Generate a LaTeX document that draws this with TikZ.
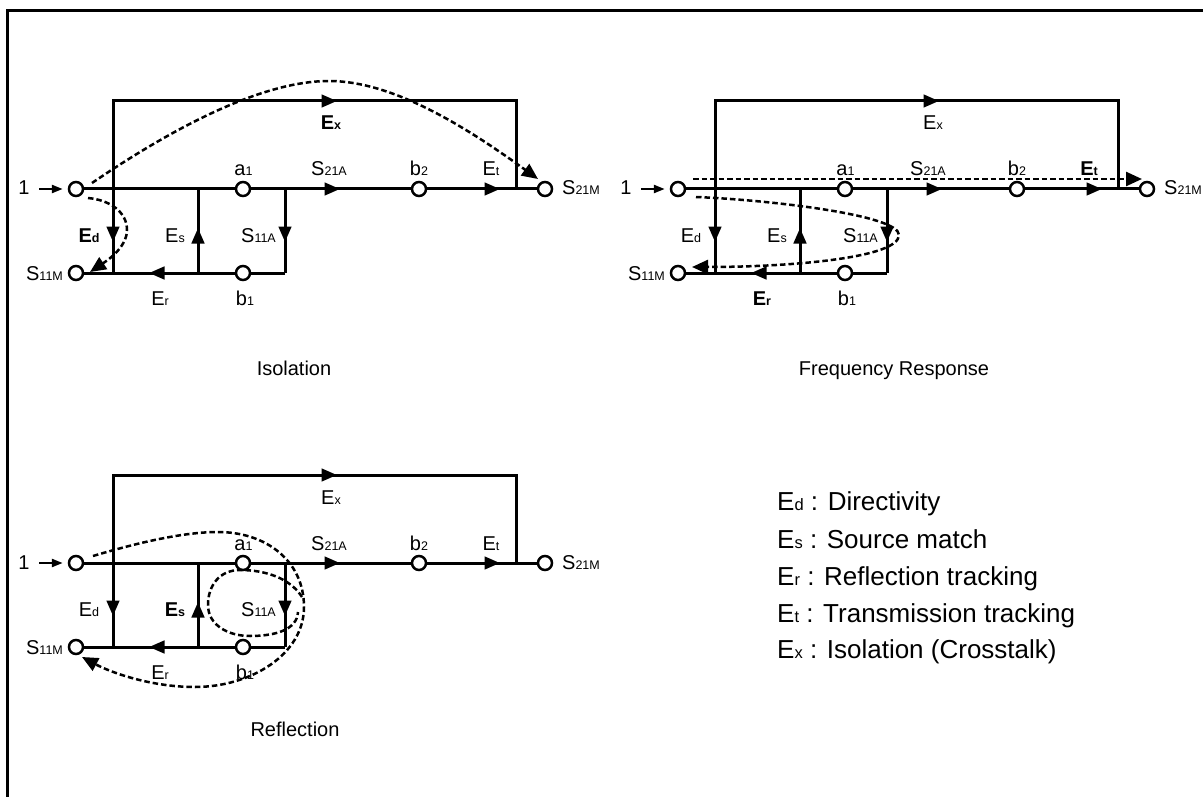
\documentclass[tikz,border=0pt]{standalone}
\usepackage{fontspec}
\setmainfont{Liberation Sans}
\usetikzlibrary{arrows.meta}
\newcommand{\sub}[1]{{\fontsize{12.5}{12.5}\selectfont #1}}
\newcommand{\lsub}[1]{{\fontsize{16.5}{16.5}\selectfont #1}}
% #1 name prefix, #2 dx, #3 dy, #4 b2 x, #5 Et label x, #6 S21A label x
\newcommand{\flowgraph}[6]{%
\begin{scope}[shift={(#2,#3)}]
  \coordinate (#1tl) at (113,101);
  \coordinate (#1tr) at (516,101);
  \coordinate (#1jr) at (516,189);
  \coordinate (#1jl) at (113,189);
  \coordinate (#1bl) at (113,273);
  \coordinate (#1js) at (198,189);
  \coordinate (#1bs) at (198,273);
  \coordinate (#1ja) at (285,189);
  \coordinate (#1ba) at (285,273);
  \coordinate (#1tipx) at (337,101);
  \coordinate (#1tipm) at (340,189);
  \coordinate (#1tipt) at (500,189);
  \coordinate (#1tipd) at (113,242);
  \coordinate (#1tips) at (198,228);
  \coordinate (#1tipa) at (285,242);
  \coordinate (#1tipr) at (149,273);
  \coordinate (#1arrs) at (39,189);
  \draw[wire] (#1jl) -- (#1tl) -- (#1tr) -- (#1jr);
  \draw[wire] (#1jl) -- (#1bl);
  \draw[wire] (#1bs) -- (#1js);
  \draw[wire] (#1ja) -- (#1ba);
  \node[port] (#1in) at (76,189) {};
  \node[port] (#1a) at (243,189) {};
  \node[port] (#1b2) at (#4,189) {};
  \node[port] (#1out) at (545,189) {};
  \node[port] (#1refl) at (76,273) {};
  \node[port] (#1b1) at (243,273) {};
  \draw[wire] (#1in) -- (#1a);
  \draw[wire] (#1a) -- (#1b2);
  \draw[wire] (#1b2) -- (#1out);
  \draw[wire] (#1ba) -- (#1b1);
  \draw[wire] (#1b1) -- (#1refl);
  \draw[tipped] (#1tl) -- (#1tipx);
  \draw[tipped] (#1a) -- (#1tipm);
  \draw[tipped] (#1b2) -- (#1tipt);
  \draw[tipped] (#1jl) -- (#1tipd);
  \draw[tipped] (#1bs) -- (#1tips);
  \draw[tipped] (#1ja) -- (#1tipa);
  \draw[tipped] (#1b1) -- (#1tipr);
  \draw[feed] (#1arrs) -- (#1in);
  \node[lbl] (#1lone) at (24,195) {1};
  \node[lbl,anchor=base west] (#1lout) at (562,195) {S\sub{21M}};
  \node[lbl] (#1lrefl) at (44.5,280) {S\sub{11M}};
  \node[lbl] (#1la) at (243.5,176) {a\sub{1}};
  \node[lbl] (#1lb) at (245,305) {b\sub{1}};
  \node[lbl] (#1lb2) at (#4,176) {b\sub{2}};
  \node[lbl] (#1lsa) at (#6,176) {S\sub{21A}};
  \node[lbl] (#1lsb) at (258.5,242) {S\sub{11A}};
  \node[lbl] (#1lt) at (#5,176) {{\fEt E\sub{t}}};
  \node[lbl] (#1lx) at (331,130) {{\fEx E\sub{x}}};
  \node[lbl] (#1ld) at (89,242) {{\fEd E\sub{d}}};
  \node[lbl] (#1ls) at (175,242) {{\fEs E\sub{s}}};
  \node[lbl] (#1lr) at (160,305) {{\fEr E\sub{r}}};
\end{scope}}
\begin{document}
\begin{tikzpicture}[x=1pt,y=-1pt,
  wire/.style={line width=3pt,line cap=butt,line join=miter},
  tipped/.style={line width=3pt,-{Triangle[length=15.5pt,width=12.5pt]}},
  feed/.style={line width=2.4pt,-{Triangle[length=11pt,width=8pt]},shorten >=5pt},
  port/.style={circle,draw,line width=2.5pt,fill=white,minimum size=14pt,inner sep=0pt},
  lbl/.style={inner sep=0pt,anchor=base,font=\fontsize{20}{20}\selectfont},
  captext/.style={inner sep=0pt,anchor=base,font=\fontsize{20}{20}\selectfont},
  legend/.style={inner sep=0pt,anchor=base west,font=\fontsize{26}{26}\selectfont},
  sig/.style={line width=2.5pt,dash pattern=on 5.5pt off 3pt},
  sigtip/.style={sig,-{Triangle[length=16pt,width=14pt]}}]
\useasboundingbox (0,0) rectangle (1203,797);
\fill[white] (0,0) rectangle (1203,797);
\draw[line width=3pt] (7,797) -- (7,11) -- (1203,11);
\def\fEd{\bfseries}\def\fEs{}\def\fEr{}\def\fEt{}\def\fEx{\bfseries}
\flowgraph{i}{0}{0}{419}{491}{329}
\def\fEd{}\def\fEs{}\def\fEr{\bfseries}\def\fEt{\bfseries}\def\fEx{}
\flowgraph{f}{602}{0}{415}{487}{326}
\def\fEd{}\def\fEs{\bfseries}\def\fEr{}\def\fEt{}\def\fEx{}
\flowgraph{r}{0}{374}{419}{491}{329}
% signal paths
\coordinate (s1a) at (92,183); \coordinate (s1b) at (538,179);
\draw[sigtip] (s1a) .. controls (170,130) and (260,81) .. (329,81) .. controls (395,81) and (470,130) .. (s1b);
\coordinate (s2a) at (88,198); \coordinate (s2b) at (90,272);
\draw[sigtip] (s2a) .. controls (110,200) and (127,212) .. (127,230) .. controls (127,248) and (105,262) .. (s2b);
\coordinate (s3a) at (693,179); \coordinate (s3b) at (1142,179);
\draw[sigtip] (s3a) -- (s3b);
\coordinate (s4a) at (696,197); \coordinate (s4b) at (692,267);
\draw[sigtip] (s4a) .. controls (770,200) and (899,215) .. (899,235) .. controls (899,258) and (790,267) .. (s4b);
\coordinate (s5a) at (93,556); \coordinate (s5b) at (82,657);
\draw[sigtip] (s5a) .. controls (130,545) and (180,532) .. (218,532) .. controls (265,532) and (304,560) .. (304,607) .. controls (304,655) and (250,687) .. (195,687) .. controls (150,687) and (110,672) .. (s5b);
\coordinate (s6a) at (302,597); \coordinate (s6b) at (298,612);
\draw[sig] (s6a) .. controls (290,578) and (265,570) .. (240,570) .. controls (220,570) and (208,585) .. (208,605) .. controls (208,625) and (228,636) .. (250,636) .. controls (275,636) and (297,630) .. (s6b);
% captions
\node[captext] (c1) at (294,375.5) {Isolation};
\node[captext] (c2) at (894,375) {Frequency Response};
\node[captext] (c3) at (295,736) {Reflection};
% legend
\node[legend] (k1) at (777,510) {E\lsub{d} : Directivity};
\node[legend] (k2) at (777,548) {E\lsub{s} : Source match};
\node[legend] (k3) at (777,585) {E\lsub{r} : Reflection tracking};
\node[legend] (k4) at (777,622) {E\lsub{t} : Transmission tracking};
\node[legend] (k5) at (777,658) {E\lsub{x} : Isolation (Crosstalk)};
\end{tikzpicture}
\end{document}
